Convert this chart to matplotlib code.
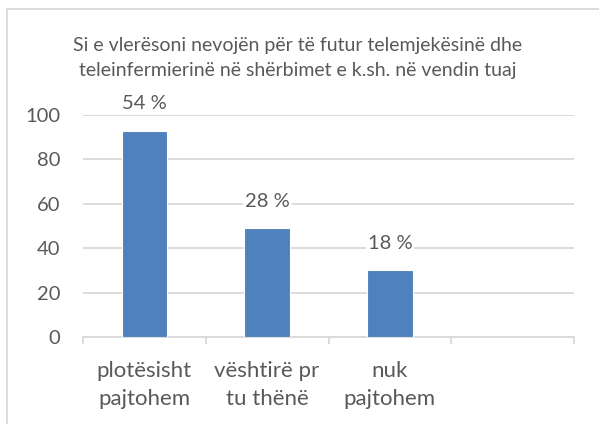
import matplotlib
matplotlib.use("Agg")
import matplotlib.pyplot as plt
from matplotlib.lines import Line2D

title = ("Si e vlerësoni nevojën për të futur telemjekësinë dhe\n"
         "teleinfermierinë në shërbimet e k.sh. në vendin tuaj")
categories = ["plotësisht\npajtohem", "vështirë pr\ntu thënë", "nuk\npajtohem", ""]
values = [93, 49, 30]
labels = ["54 %", "28 %", "18 %"]
yticks = [0, 20, 40, 60, 80, 100]

plt.rcParams["font.family"] = ["Lato", "DejaVu Sans"]
TXT = "#595959"
GRID = "#d9d9d9"

fig = plt.figure(figsize=(5.99, 4.24), dpi=100)
ax = fig.add_axes([83 / 599, 1 - 337 / 424, (574 - 83) / 599, (337 - 115) / 424])

x = list(range(len(values)))
ax.bar(x, values, width=0.37, color="#4F81BD", edgecolor="white",
       linewidth=0.8, zorder=3)
for xi, v, lab in zip(x, values, labels):
    ax.annotate(lab, (xi, v), xytext=(0, 19.5), textcoords="offset points",
                ha="center", va="center", fontsize=14.5, color=TXT, zorder=4,
                bbox=dict(boxstyle="square,pad=0.1", fc="white", ec="none"))

ax.set_xlim(-0.5, len(categories) - 0.5)
ax.set_ylim(0, 100)
ax.set_yticks(yticks)
ax.set_yticklabels([str(t) for t in yticks], fontsize=14.5, color=TXT)
ax.tick_params(axis="y", length=0, pad=16.5)
ax.yaxis.grid(True, color=GRID, lw=1.3, zorder=0)
ax.set_axisbelow(True)

# category labels centred, tick marks between categories
ax.set_xticks(x + [3])
ax.set_xticklabels(categories, fontsize=16, color=TXT, linespacing=1.5)
ax.tick_params(axis="x", length=0, pad=17)
ax.set_xticks([i - 0.5 for i in range(len(categories) + 1)], minor=True)
ax.tick_params(axis="x", which="minor", length=5, width=1.3, color=GRID)

for s in ["top", "right", "left"]:
    ax.spines[s].set_visible(False)
ax.spines["bottom"].set_color(GRID)
ax.spines["bottom"].set_linewidth(1.3)

fig.text(298 / 599, 1 - 58 / 424, title, ha="center", va="center",
         fontsize=14, color=TXT, linespacing=1.6)

# chart frame (left and top edges visible)
fig.add_artist(Line2D([6.5 / 599, 6.5 / 599], [0, 1 - 9 / 424],
                      transform=fig.transFigure, color=GRID, lw=1.3))
fig.add_artist(Line2D([6.5 / 599, 1], [1 - 9 / 424, 1 - 9 / 424],
                      transform=fig.transFigure, color=GRID, lw=1.3))

fig.savefig("out.png", dpi=100)
